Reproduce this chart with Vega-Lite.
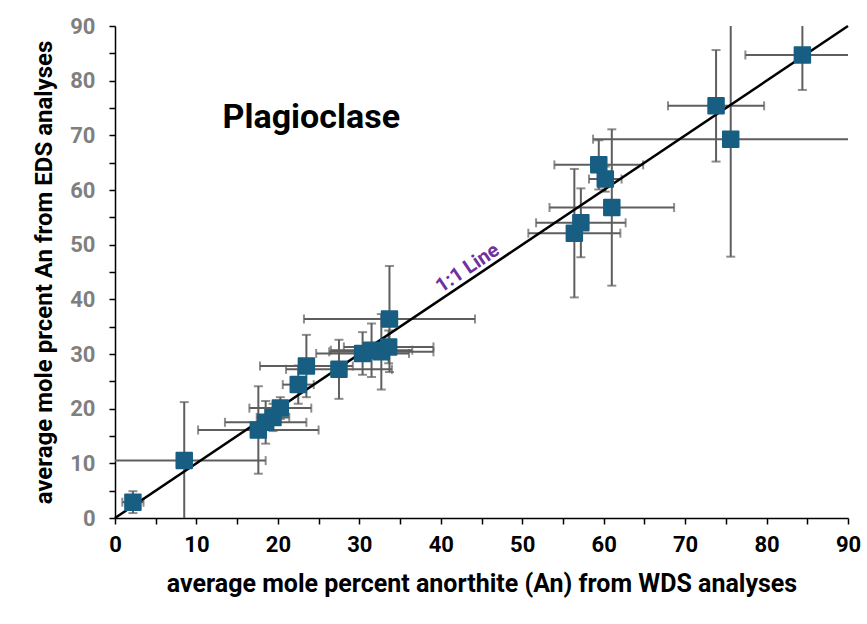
{
  "$schema": "https://vega.github.io/schema/vega-lite/v6.json",
  "width": 733,
  "height": 492,
  "autosize": {"type": "none"},
  "padding": {"left": 115, "top": 26, "right": 19, "bottom": 106},
  "background": "white",
  "config": {
    "view": {"stroke": null},
    "font": "Roboto",
    "axis": {
      "values": [0,2,4,6,8,10,12,14,16,18,20,22,24,26,28,30,32,34,36,38,40,42,44,46,48,50,52,54,56,58,60,62,64,66,68,70,72,74,76,78,80,82,84,86,88,90],
      "labelExpr": "datum.value % 10 === 0 ? datum.label : ''",
      "labelOverlap": false, "labelFlush": false, "grid": false,
      "domainColor": "black", "domainWidth": 1.5, "tickColor": "black", "tickWidth": 1.5, "tickSize": 6,
      "labelFont": "Roboto", "labelFontWeight": "bold", "labelFontSize": 22,
      "titleFont": "Roboto", "titleFontWeight": "bold", "titleColor": "black"
    },
    "axisX": {"labelColor": "black", "labelPadding": 10, "titlePadding": 16, "titleFontSize": 25},
    "axisY": {"labelColor": "#7f7f7f", "labelPadding": 14, "titlePadding": 13, "titleFontSize": 24}
  },
  "datasets": {
    "pts": [
      {"x": 2.2, "y": 2.9, "xe": 1.3, "ye": 2.0},
      {"x": 8.5, "y": 10.5, "xe": 10.0, "ye": 10.7},
      {"x": 17.6, "y": 16.1, "xe": 7.4, "ye": 8.0},
      {"x": 18.5, "y": 17.5, "xe": 5.0, "ye": 3.9},
      {"x": 19.4, "y": 18.4, "xe": 2.0, "ye": 2.5},
      {"x": 20.3, "y": 20.1, "xe": 3.8, "ye": 2.0},
      {"x": 22.5, "y": 24.4, "xe": 1.9, "ye": 3.5},
      {"x": 23.5, "y": 27.8, "xe": 5.7, "ye": 5.7},
      {"x": 27.5, "y": 27.2, "xe": 6.5, "ye": 5.4},
      {"x": 30.4, "y": 30.1, "xe": 5.7, "ye": 3.9},
      {"x": 31.5, "y": 30.7, "xe": 5.0, "ye": 4.9},
      {"x": 32.7, "y": 30.4, "xe": 6.4, "ye": 6.9},
      {"x": 33.6, "y": 31.3, "xe": 5.5, "ye": 3.0},
      {"x": 33.7, "y": 36.4, "xe": 10.5, "ye": 9.7},
      {"x": 56.4, "y": 52.1, "xe": 5.65, "ye": 11.75},
      {"x": 57.2, "y": 54.0, "xe": 5.5, "ye": 6.3},
      {"x": 59.4, "y": 64.6, "xe": 5.45, "ye": 4.5},
      {"x": 60.2, "y": 62.0, "xe": 2.0, "ye": 2.3},
      {"x": 61.0, "y": 56.8, "xe": 7.65, "ye": 14.3},
      {"x": 73.8, "y": 75.4, "xe": 5.9, "ye": 10.2},
      {"x": 75.6, "y": 69.3, "xe": 16.9, "ye": 21.5},
      {"x": 84.4, "y": 84.7, "xe": 7.0, "ye": 6.4}
    ],
    "oneone": [{"x": 0, "y": 0}, {"x": 90, "y": 90}],
    "title": [{"x": 24.1, "y": 73.2, "text": "Plagioclase"}],
    "linelabel": [{"x": 43.3, "y": 45.7, "text": "1:1 Line"}]
  },
  "layer": [
    {
      "data": {"name": "pts"},
      "mark": {"type": "errorbar", "clip": true, "thickness": 2, "color": "#5e5e5e", "ticks": {"size": 9, "thickness": 2, "color": "#5e5e5e"}, "rule": {"strokeWidth": 2, "color": "#5e5e5e"}},
      "encoding": {
        "x": {"field": "x", "type": "quantitative", "scale": {"domain": [0, 90], "nice": false}, "title": "average mole percent anorthite (An) from WDS analyses"},
        "xError": {"field": "xe"},
        "y": {"field": "y", "type": "quantitative", "scale": {"domain": [0, 90], "nice": false}, "title": "average mole prcent An from EDS analyses"}
      }
    },
    {
      "data": {"name": "pts"},
      "mark": {"type": "errorbar", "clip": true, "thickness": 2, "color": "#5e5e5e", "ticks": {"size": 9, "thickness": 2, "color": "#5e5e5e"}, "rule": {"strokeWidth": 2, "color": "#5e5e5e"}},
      "encoding": {
        "x": {"field": "x", "type": "quantitative", "title": "average mole percent anorthite (An) from WDS analyses"},
        "y": {"field": "y", "type": "quantitative", "title": "average mole prcent An from EDS analyses"},
        "yError": {"field": "ye"}
      }
    },
    {
      "data": {"name": "oneone"},
      "mark": {"type": "line", "color": "black", "strokeWidth": 2.5},
      "encoding": {
        "x": {"field": "x", "type": "quantitative", "title": "average mole percent anorthite (An) from WDS analyses"},
        "y": {"field": "y", "type": "quantitative", "title": "average mole prcent An from EDS analyses"}
      }
    },
    {
      "data": {"name": "pts"},
      "mark": {"type": "point", "shape": "square", "filled": true, "size": 240, "color": "#175e82", "opacity": 1, "stroke": "#175e82", "strokeWidth": 2, "strokeJoin": "round"},
      "encoding": {
        "x": {"field": "x", "type": "quantitative", "title": "average mole percent anorthite (An) from WDS analyses"},
        "y": {"field": "y", "type": "quantitative", "title": "average mole prcent An from EDS analyses"}
      }
    },
    {
      "data": {"name": "title"},
      "mark": {"type": "text", "font": "Roboto", "fontWeight": "bold", "fontSize": 34, "color": "black"},
      "encoding": {
        "x": {"field": "x", "type": "quantitative", "title": "average mole percent anorthite (An) from WDS analyses"},
        "y": {"field": "y", "type": "quantitative", "title": "average mole prcent An from EDS analyses"},
        "text": {"field": "text"}
      }
    },
    {
      "data": {"name": "linelabel"},
      "mark": {"type": "text", "font": "Roboto", "fontWeight": "bold", "fontSize": 20, "color": "#7030a0", "angle": -34},
      "encoding": {
        "x": {"field": "x", "type": "quantitative", "title": "average mole percent anorthite (An) from WDS analyses"},
        "y": {"field": "y", "type": "quantitative", "title": "average mole prcent An from EDS analyses"},
        "text": {"field": "text"}
      }
    }
  ]
}
